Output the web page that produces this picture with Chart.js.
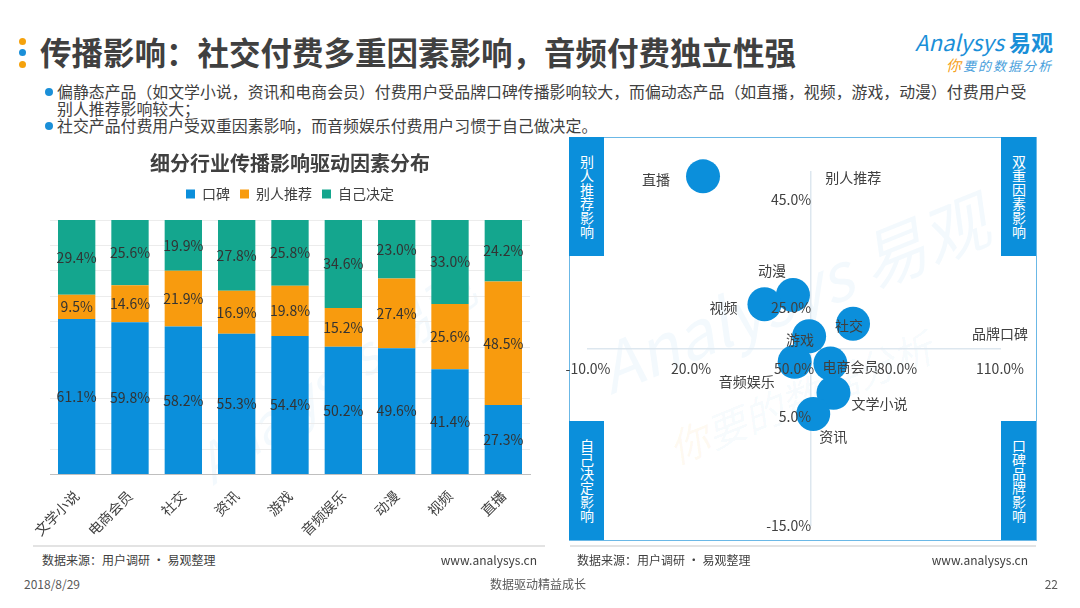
<!DOCTYPE html>
<html lang="zh">
<head>
<meta charset="UTF-8">
<title>传播影响</title>
<script src="https://cdn.jsdelivr.net/npm/chart.js"></script>
<style>
  body { margin: 0; width: 1080px; height: 608px; position: relative; overflow: hidden; background: #fff;
         font-family: "Noto Sans CJK SC", "Noto Sans", sans-serif; color: #404040; }
  .abs { position: absolute; white-space: nowrap; }
  .dot { position: absolute; width: 7px; height: 7px; border-radius: 50%; }
  .title { left: 40px; top: 31px; font-size: 31.5px; font-weight: bold; line-height: 40px; color: #404040; }
  .bullets { left: 57px; top: 83px; font-size: 15.9px; line-height: 17px; color: #404040; }
  .bullets div { position: relative; }
  .bullets div::before { content: ""; position: absolute; left: -12px; top: 5px; width: 8px; height: 8px;
                         border-radius: 50%; background: #1a8fd8; }
  .logo1 { right: 27px; top: 27px; font-size: 22px; color: #1a8fd8; font-style: italic; line-height: 28px; }
  .logo1 b { font-style: normal; }
  .logo2 { right: 27px; top: 56px; font-size: 13px; color: #4a9fdc; font-style: italic; letter-spacing: 2px; line-height: 18px; }
  .logo2 span { color: #f5a020; font-size: 15px; }
  .panel { left: 569px; top: 137px; width: 466px; height: 402px; border: 1px solid #6bb8e6; }
  .qbox { position: absolute; width: 35px; height: 119px; background: #0b8fdb; color: #fff; font-size: 14px;
          writing-mode: vertical-rl; display: flex; align-items: center; justify-content: center; line-height: 35px; }
  .rule { position: absolute; height: 2px; background: #e3e3e3; }
  .foot { font-size: 12px; color: #404040; line-height: 16px; }
  .bottom { font-size: 12px; color: #595959; line-height: 16px; }
  .wm { position: absolute; white-space: nowrap; transform-origin: left center; pointer-events: none; }
</style>
</head>
<body>
<div class="dot" style="left:19px;top:38px;background:#f5a20d"></div>
<div class="dot" style="left:19px;top:49px;background:#1a8fd8"></div>
<div class="dot" style="left:19px;top:61px;background:#f5a20d"></div>
<div class="abs title">传播影响：社交付费多重因素影响，音频付费独立性强</div>
<div class="abs logo1">Analysys <b>易观</b></div>
<div class="abs logo2"><span>你</span>要的数据分析</div>
<div class="abs bullets">
  <div>偏静态产品（如文学小说，资讯和电商会员）付费用户受品牌口碑传播影响较大，而偏动态产品（如直播，视频，游戏，动漫）付费用户受<br>别人推荐影响较大；</div>
  <div>社交产品付费用户受双重因素影响，而音频娱乐付费用户习惯于自己做决定。</div>
</div>

<!-- 水印 -->
<div class="wm" style="left:600px;top:320px;transform:rotate(-22deg);font-size:66px;color:rgba(11,143,219,0.05);font-style:italic">Analysys 易观</div>
<div class="wm" style="left:670px;top:420px;transform:rotate(-22deg);font-size:40px;color:rgba(11,143,219,0.05);font-style:italic"><span style="color:rgba(245,160,32,0.07)">你</span>要的数据分析</div>
<div class="wm" style="left:200px;top:430px;transform:rotate(-35deg);font-size:52px;color:rgba(11,143,219,0.05);font-style:italic">Analysys 易观</div>

<div class="abs" style="left:30px;top:145px;width:520px;height:400px"><canvas id="barChart"></canvas></div>

<div class="abs panel"></div>
<div class="abs" style="left:548px;top:140px;width:500px;height:406px"><canvas id="bubbleChart"></canvas></div>
<div class="qbox" style="left:569px;top:137px">别人推荐影响</div>
<div class="qbox" style="left:1001px;top:137px">双重因素影响</div>
<div class="qbox" style="left:569px;top:421px">自己决定影响</div>
<div class="qbox" style="left:1001px;top:421px">口碑品牌影响</div>

<div class="rule" style="left:33px;top:545px;width:512px"></div>
<div class="rule" style="left:570px;top:545px;width:466px"></div>
<div class="abs foot" style="left:42px;top:552px">数据来源：用户调研 · 易观整理</div>
<div class="abs foot" style="right:543px;top:552px">www.analysys.cn</div>
<div class="abs foot" style="left:577px;top:552px">数据来源：用户调研 · 易观整理</div>
<div class="abs foot" style="right:52px;top:552px">www.analysys.cn</div>
<div class="abs bottom" style="left:24px;top:576px">2018/8/29</div>
<div class="abs bottom" style="left:490px;top:576px">数据驱动精益成长</div>
<div class="abs bottom" style="right:22px;top:576px">22</div>

<script>
// 左图：细分行业传播影响驱动因素分布 (%)
const industries = ["文学小说", "电商会员", "社交", "资讯", "游戏", "音频娱乐", "动漫", "视频", "直播"];
const wordOfMouth = [61.1, 59.8, 58.2, 55.3, 54.4, 50.2, 49.6, 41.4, 27.3];
const othersRecommend = [9.5, 14.6, 21.9, 16.9, 19.8, 15.2, 27.4, 25.6, 48.5];
const selfDecide = [29.4, 25.6, 19.9, 27.8, 25.8, 34.6, 23.0, 33.0, 24.2];
const seriesNames = ["口碑", "别人推荐", "自己决定"];

// 右图：品牌口碑 (x) vs 别人推荐 (y)，读自气泡位置
const bubbleNames = ["直播", "动漫", "视频", "游戏", "社交", "音频娱乐", "电商会员", "文学小说", "资讯"];
const brandX = [23.5, 49.7, 41.4, 54.4, 67.2, 50.2, 60.6, 61.5, 55.6];
const recommendY = [49.2, 27.4, 25.7, 19.8, 22.1, 15.1, 14.8, 9.4, 5.5];
const xTicks = [-10, 20, 50, 80, 110];
const yTicks = [-15, 5, 25, 45];
const xCross = 55;
const yCross = 17.6;

Chart.defaults.font.family = '"Noto Sans CJK SC", "Noto Sans", sans-serif';
Chart.defaults.color = "#404040";

const blue = "#0b8fdb", orange = "#f89b0e", teal = "#14a68e";

const barLabels = {
  id: "barLabels",
  afterDatasetsDraw(chart) {
    const ctx = chart.ctx;
    ctx.save();
    ctx.font = '14px "Noto Sans CJK SC", sans-serif';
    ctx.fillStyle = "#333";
    ctx.textAlign = "center";
    ctx.textBaseline = "middle";
    chart.data.datasets.forEach((ds, i) => {
      chart.getDatasetMeta(i).data.forEach((bar, j) => {
        ctx.fillText(ds.data[j].toFixed(1) + "%", bar.x, (bar.y + bar.base) / 2);
      });
    });
    ctx.restore();
  }
};

// 图例下方留白
const legendGap = {
  id: "legendGap",
  beforeInit(chart) {
    const fit = chart.legend.fit;
    chart.legend.fit = function () {
      fit.call(this);
      this.height += 9;
    };
  }
};

new Chart(document.getElementById("barChart"), {
  type: "bar",
  data: {
    labels: industries,
    datasets: [
      { label: seriesNames[0], data: wordOfMouth, backgroundColor: blue },
      { label: seriesNames[1], data: othersRecommend, backgroundColor: orange },
      { label: seriesNames[2], data: selfDecide, backgroundColor: teal }
    ]
  },
  options: {
    responsive: true,
    maintainAspectRatio: false,
    animation: false,
    layout: { padding: { left: 20, right: 20, top: 0, bottom: 1 } },
    datasets: { bar: { categoryPercentage: 1, barPercentage: 0.7 } },
    plugins: {
      title: { display: true, text: "细分行业传播影响驱动因素分布", color: "#404040",
               font: { size: 20, weight: "bold" }, padding: { top: 6, bottom: 2 } },
      legend: { labels: { boxWidth: 9, boxHeight: 9, font: { size: 14 }, padding: 10 } },
      tooltip: { enabled: false }
    },
    scales: {
      x: {
        stacked: true,
        grid: { display: false },
        border: { color: "#bfbfbf", width: 1 },
        ticks: { font: { size: 14 }, color: "#404040", minRotation: 45, maxRotation: 45, padding: 5 }
      },
      y: {
        stacked: true,
        min: 0, max: 100,
        ticks: { display: false, stepSize: 10 },
        border: { display: false },
        grid: { color: "#ececec", drawTicks: false }
      }
    }
  },
  plugins: [barLabels, legendGap]
});

// 气泡标签位置偏移（样式）
const labelOffsets = [[-47, 3], [-21, -24], [-41, 3], [-9, 3], [-4, 2], [-48, 20], [20, 3], [46, 11], [20, 23]];

const bubbleText = {
  id: "bubbleText",
  afterDraw(chart) {
    const ctx = chart.ctx;
    const xs = chart.scales.x, ys = chart.scales.y;
    ctx.save();
    ctx.font = '14px "Noto Sans CJK SC", sans-serif';
    ctx.fillStyle = "#404040";
    ctx.textAlign = "center";
    ctx.textBaseline = "middle";
    chart.getDatasetMeta(0).data.forEach((pt, i) => {
      ctx.fillText(bubbleNames[i], pt.x + labelOffsets[i][0], pt.y + labelOffsets[i][1]);
    });
    ctx.fillText("品牌口碑", xs.getPixelForValue(xs.max), ys.getPixelForValue(yCross) - 15);
    ctx.textAlign = "left";
    ctx.fillText("别人推荐", xs.getPixelForValue(xCross) + 14, ys.getPixelForValue(ys.max) + 6);
    ctx.restore();
  }
};

new Chart(document.getElementById("bubbleChart"), {
  type: "bubble",
  data: {
    datasets: [{
      label: "细分行业",
      data: brandX.map((x, i) => ({ x: x, y: recommendY[i] })),
      backgroundColor: blue,
      borderWidth: 0,
      radius: 17,
      clip: false
    }]
  },
  options: {
    responsive: true,
    maintainAspectRatio: false,
    animation: false,
    layout: { padding: { left: 40, right: 48, top: 32, bottom: 20 } },
    plugins: { legend: { display: false }, tooltip: { enabled: false } },
    scales: {
      x: {
        type: "linear", min: -10, max: 110,
        position: { y: yCross },
        afterBuildTicks: s => { s.ticks = xTicks.map(v => ({ value: v })); },
        grid: { display: false, drawTicks: false },
        border: { color: "#dde7ef", width: 1.5 },
        ticks: { z: 1, font: { size: 14 }, color: "#404040", padding: 12, maxRotation: 0,
                 callback: v => v.toFixed(1) + "%" }
      },
      y: {
        type: "linear", min: -15, max: 50,
        position: { x: xCross },
        afterBuildTicks: s => { s.ticks = yTicks.map(v => ({ value: v })); },
        grid: { display: false, drawTicks: false },
        border: { color: "#dde7ef", width: 1.5 },
        ticks: { z: 1, font: { size: 14 }, color: "#404040", padding: 12,
                 callback: v => v.toFixed(1) + "%" }
      }
    }
  },
  plugins: [bubbleText]
});
</script>
</body>
</html>
